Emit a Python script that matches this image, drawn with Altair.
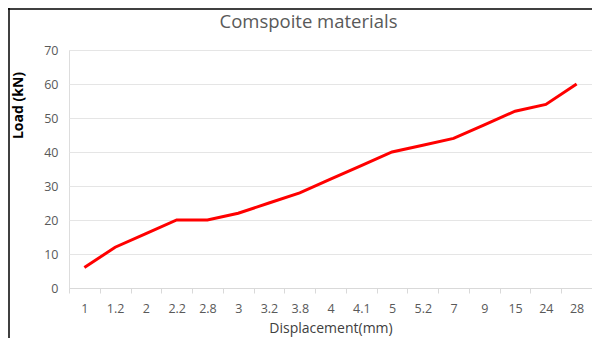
import altair as alt
import pandas as pd

displacement = ["1", "1.2", "2", "2.2", "2.8", "3", "3.2", "3.8", "4", "4.1",
                "5", "5.2", "7", "9", "15", "24", "28"]
load = [6, 12, 16, 20, 20, 22, 25, 28, 32, 36, 40, 42, 44, 48, 52, 54, 60]

df = pd.DataFrame({"Displacement": displacement, "Load": load})

W, H = 523, 238
FONT = "Open Sans"

line = alt.Chart(df).mark_line(color="#FF0000", strokeWidth=3).encode(
    x=alt.X("Displacement:N", sort=None, bandPosition=0.5,
            scale=alt.Scale(type="band", paddingInner=0, paddingOuter=0),
            axis=alt.Axis(title="Displacement(mm)", labelAngle=0, tickBand="extent",
                          grid=False, domainColor="#D9D9D9", tickColor="#D9D9D9",
                          tickSize=5, labelPadding=9, labelColor="#595959",
                          labelFontSize=12.5, labelFont=FONT,
                          titleFont=FONT, titleFontSize=14, titleFontWeight="normal",
                          titleColor="#404040", titlePadding=7)),
    y=alt.Y("Load:Q", scale=alt.Scale(domain=[0, 70]),
            axis=alt.Axis(title="Load (kN)", values=[0, 10, 20, 30, 40, 50, 60, 70],
                          domain=False, ticks=False, gridColor="#E5E5E5",
                          labelPadding=11, labelColor="#595959", labelFontSize=12.5,
                          labelFont=FONT, titleFont=FONT, titleFontSize=14,
                          titleFontWeight="bold", titleColor="#000000",
                          titleAngle=-90, titleX=-51, titleY=55,
                          titleAlign="center", titleBaseline="middle")),
)

border_df = pd.DataFrame({"a": [0]})
left_border = alt.Chart(border_df).mark_rule(color="#000000", strokeWidth=1.5).encode(
    x=alt.value(-60), y=alt.value(-42), y2=alt.value(H + 50))
top_border = alt.Chart(border_df).mark_rule(color="#000000", strokeWidth=1.5).encode(
    y=alt.value(-41), x=alt.value(-61), x2=alt.value(W))

chart = alt.layer(line, left_border, top_border).properties(
    width=W, height=H,
    title=alt.TitleParams("Comspoite materials", font=FONT, fontSize=18.5,
                          fontWeight="normal", color="#595959", anchor="middle",
                          dx=-22, dy=24, offset=0),
    autosize=alt.AutoSizeParams(type="none"),
    padding={"left": 61, "top": 42, "right": 0, "bottom": 50},
).configure_view(stroke=None).configure(background="#FFFFFF")

chart.save("out.html", embed_options={"renderer": "svg", "actions": False})
